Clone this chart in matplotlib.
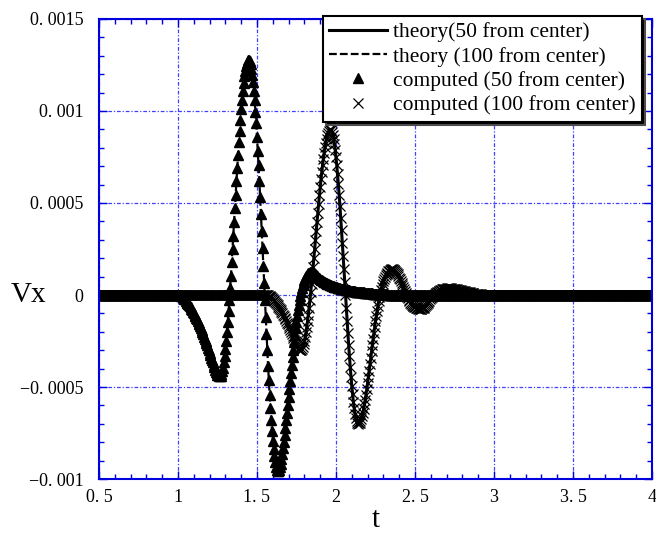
import numpy as np
import matplotlib
matplotlib.use("Agg")
import matplotlib.pyplot as plt
from matplotlib.ticker import MultipleLocator

plt.rcParams['font.family'] = ['Liberation Serif', 'DejaVu Serif']

# time axis of the recorded signals
T0, T1, DT = 0.5, 4.0, 0.005

# Vx at 50 from center (units of 1e-5), sampled every DT starting at T_50; zero elsewhere
T_50 = 1.015
vx_50 = [
    0.0, -0.3, -0.6, -1.0, -1.4, -1.9, -2.4, -3.0, -3.6, -4.2,
    -4.8, -5.4, -6.0, -6.7, -7.4, -8.2, -9.0, -9.8, -10.6, -11.4,
    -12.3, -13.2, -14.1, -15.0, -15.9, -16.8, -17.9, -19.0, -20.2, -21.4,
    -22.6, -23.8, -25.0, -26.2, -27.4, -28.7, -30.0, -31.3, -32.6, -34.0,
    -35.3, -36.6, -38.0, -39.3, -40.5, -41.6, -42.5, -43.2, -43.7, -44.0,
    -44.0, -43.8, -43.0, -41.5, -39.4, -36.6, -33.3, -29.5, -25.1, -20.1,
    -14.7, -8.9, -2.7, 3.8, 10.5, 17.7, 24.9, 32.3, 39.8, 47.2,
    54.6, 62.0, 69.2, 76.1, 82.9, 89.3, 95.3, 101.0, 106.1, 110.9,
    115.1, 118.8, 121.9, 124.3, 126.2, 127.4, 127.9, 127.9, 127.0, 125.3,
    122.9, 119.7, 115.7, 111.1, 105.7, 99.7, 93.2, 86.1, 78.4, 70.4,
    62.0, 53.2, 44.1, 34.8, 25.5, 16.0, 6.6, -2.8, -12.1, -21.1,
    -29.9, -38.4, -46.4, -54.1, -61.2, -67.8, -73.8, -79.1, -83.8, -87.7,
    -90.9, -93.3, -95.0, -95.8, -95.8, -95.0, -93.6, -91.7, -89.3, -86.5,
    -83.3, -79.8, -76.1, -72.2, -68.1, -63.9, -59.6, -55.3, -50.9, -46.6,
    -42.3, -38.0, -33.8, -29.7, -25.7, -21.8, -18.1, -14.6, -11.3, -8.2,
    -5.3, -2.7, -0.3, 1.8, 3.7, 5.4, 6.9, 8.1, 9.2, 10.1,
    10.8, 11.4, 11.8, 12.1, 12.3, 12.4, 12.4, 12.3, 12.1, 11.8,
    11.5, 11.1, 10.7, 10.3, 9.9, 9.5, 9.1, 8.7, 8.4, 8.1,
    7.8, 7.5, 7.2, 6.9, 6.7, 6.4, 6.2, 6.0, 5.8, 5.6,
    5.4, 5.2, 5.0, 4.8, 4.7, 4.5, 4.4, 4.2, 4.1, 4.0,
    3.8, 3.7, 3.6, 3.5, 3.4, 3.3, 3.2, 3.1, 3.0, 2.9,
    2.8, 2.7, 2.6, 2.6, 2.5, 2.4, 2.3, 2.3, 2.2, 2.1,
    2.1, 2.0, 1.9, 1.9, 1.8, 1.7, 1.7, 1.6, 1.6, 1.5,
    1.5, 1.4, 1.4, 1.3, 1.3, 1.2, 1.2, 1.1, 1.1, 1.0,
    1.0, 0.9, 0.9, 0.9, 0.8, 0.8, 0.7, 0.7, 0.7, 0.6,
    0.6, 0.6, 0.5, 0.5, 0.5, 0.4, 0.4, 0.4, 0.3, 0.3,
    0.3, 0.3, 0.2, 0.2, 0.2, 0.2, 0.1, 0.1, 0.1, 0.1,
    0.1, 0.0,
]

# Vx at 100 from center (units of 1e-5), sampled every DT starting at T_100
T_100 = 1.565
vx_100 = [
    0.0, -0.1, -0.3, -0.6, -0.9, -1.3, -1.7, -2.2, -2.7, -3.2,
    -3.8, -4.4, -5.0, -5.6, -6.3, -7.0, -7.7, -8.4, -9.1, -9.9,
    -10.7, -11.5, -12.3, -13.2, -14.1, -15.0, -15.9, -16.9, -17.9, -18.9,
    -19.9, -21.0, -22.1, -23.2, -24.3, -25.4, -26.5, -27.5, -28.4, -29.1,
    -29.6, -29.9, -30.0, -29.8, -29.2, -28.2, -26.8, -24.9, -22.8, -20.2,
    -17.4, -14.1, -10.6, -6.9, -2.8, 1.4, 5.9, 10.5, 15.3, 20.1,
    25.1, 30.0, 35.0, 39.9, 44.7, 49.5, 54.1, 58.6, 62.8, 66.9,
    70.6, 74.1, 77.4, 80.2, 82.8, 84.9, 86.8, 88.2, 89.2, 89.8,
    90.0, 89.7, 88.7, 87.2, 85.0, 82.2, 78.8, 74.9, 70.5, 65.6,
    60.2, 54.5, 48.4, 42.0, 35.3, 28.4, 21.4, 14.3, 7.1, 0.0,
    -7.0, -13.9, -20.6, -27.1, -33.3, -39.1, -44.5, -49.5, -54.0, -58.1,
    -61.5, -64.4, -66.8, -68.5, -69.5, -70.0, -69.8, -69.3, -68.5, -67.3,
    -65.8, -64.0, -61.9, -59.5, -56.9, -54.1, -51.1, -47.9, -44.6, -41.2,
    -37.7, -34.2, -30.7, -27.2, -23.8, -20.5, -17.3, -14.2, -11.3, -8.5,
    -5.9, -3.5, -1.3, 0.8, 2.7, 4.4, 6.0, 7.4, 8.6, 9.7,
    10.7, 11.5, 12.2, 12.8, 13.3, 13.6, 13.8, 14.0, 14.0, 13.9,
    13.7, 13.4, 13.0, 12.5, 11.9, 11.2, 10.4, 9.5, 8.6, 7.6,
    6.6, 5.5, 4.4, 3.3, 2.2, 1.1, 0.1, -0.9, -1.8, -2.7,
    -3.5, -4.2, -4.9, -5.5, -5.8, -6.1, -6.4, -6.6, -6.9, -7.1,
    -7.3, -7.4, -7.5, -7.5, -7.5, -7.4, -7.3, -7.1, -6.8, -6.4,
    -5.9, -5.4, -4.8, -4.2, -3.6, -3.0, -2.4, -1.8, -1.3, -0.8,
    -0.3, 0.1, 0.5, 0.9, 1.3, 1.6, 1.9, 2.2, 2.4, 2.6,
    2.8, 3.0, 3.1, 3.2, 3.3, 3.4, 3.5, 3.5, 3.6, 3.6,
    3.6, 3.6, 3.6, 3.5, 3.5, 3.4, 3.4, 3.3, 3.2, 3.1,
    3.0, 2.9, 2.8, 2.7, 2.6, 2.5, 2.4, 2.3, 2.2, 2.1,
    2.0, 1.9, 1.8, 1.7, 1.6, 1.5, 1.4, 1.3, 1.2, 1.1,
    1.0, 0.9, 0.8, 0.7, 0.6, 0.6, 0.5, 0.4, 0.4, 0.3,
    0.3, 0.2, 0.2, 0.1, 0.1, 0.1, 0.0,
]

x_ticks = [0.5, 1.0, 1.5, 2.0, 2.5, 3.0, 3.5, 4.0]
x_labels = ['0. 5', '1', '1. 5', '2', '2. 5', '3', '3. 5', '4']
y_ticks = [-0.001, -0.0005, 0.0, 0.0005, 0.001, 0.0015]
y_labels = ['\u22120. 001', '\u22120. 0005', '0', '0. 0005', '0. 001', '0. 0015']

legend_labels = ['theory(50 from center)', 'theory (100 from center)',
                 'computed (50 from center)', 'computed (100 from center)']

t = np.round(np.arange(T0, T1 + DT / 2, DT), 3)


def place(start, vals):
    v = np.zeros_like(t)
    i = int(round((start - T0) / DT))
    v[i:i + len(vals)] = np.array(vals) * 1e-5
    return v


v50 = place(T_50, vx_50)
v100 = place(T_100, vx_100)

AX_BLUE = '#0000dd'
GRID_BLUE = '#4040ff'

fig = plt.figure(figsize=(6.56, 5.36), dpi=100)
ax = fig.add_axes([0.1509, 0.1063, 0.8430, 0.8583])

tri, = ax.plot(t, v50, ls='none', marker='^', ms=6.5, color='k', mec='k')
crs, = ax.plot(t, v100, ls='none', marker='x', ms=6.5, mew=0.9, color='k')
solid, = ax.plot(t, v100, color='k', lw=2.2)
dashed, = ax.plot(t, v50, color='k', lw=1.6, ls=(0, (3.5, 1.4)))

ax.set_xlim(T0, T1)
ax.set_ylim(-0.001, 0.0015)
ax.set_xticks(x_ticks)
ax.set_xticklabels(x_labels)
ax.set_yticks(y_ticks)
ax.set_yticklabels(y_labels)
ax.xaxis.set_minor_locator(MultipleLocator(0.1))
ax.yaxis.set_minor_locator(MultipleLocator(0.0001))
ax.tick_params(which='both', direction='in', top=True, right=True,
               color=AX_BLUE, width=1, labelsize=13, labelcolor='k')
ax.tick_params(which='major', length=6)
ax.tick_params(which='minor', length=3.5)
ax.tick_params(axis='y', pad=11)
ax.tick_params(axis='x', pad=7)

for sp in ax.spines.values():
    sp.set_color(AX_BLUE)
    sp.set_linewidth(1.5)

ax.set_axisbelow(True)
ax.grid(True, which='major', color=GRID_BLUE, lw=0.9, ls=(0, (3, 1.5, 1, 1.5)))

ax.set_xlabel('t', fontsize=21)
ax.xaxis.label.set_va('center')
ax.xaxis.set_label_coords(0.5, -0.089)
ax.set_ylabel('Vx', fontsize=21, rotation=0, ha='center', va='center')
ax.yaxis.set_label_coords(-0.127, 0.4)

leg = ax.legend([solid, dashed, tri, crs], legend_labels,
                loc='upper right', bbox_to_anchor=(0.982, 1.007),
                borderaxespad=0, fontsize=15.5, numpoints=1,
                handlelength=2.7, handletextpad=0.25, labelspacing=0.2,
                borderpad=0.3, fancybox=False, framealpha=1,
                edgecolor='k', shadow={'facecolor': 'k', 'alpha': 1})
leg.get_frame().set_linewidth(1.5)

fig.savefig('out.png', dpi=100)
